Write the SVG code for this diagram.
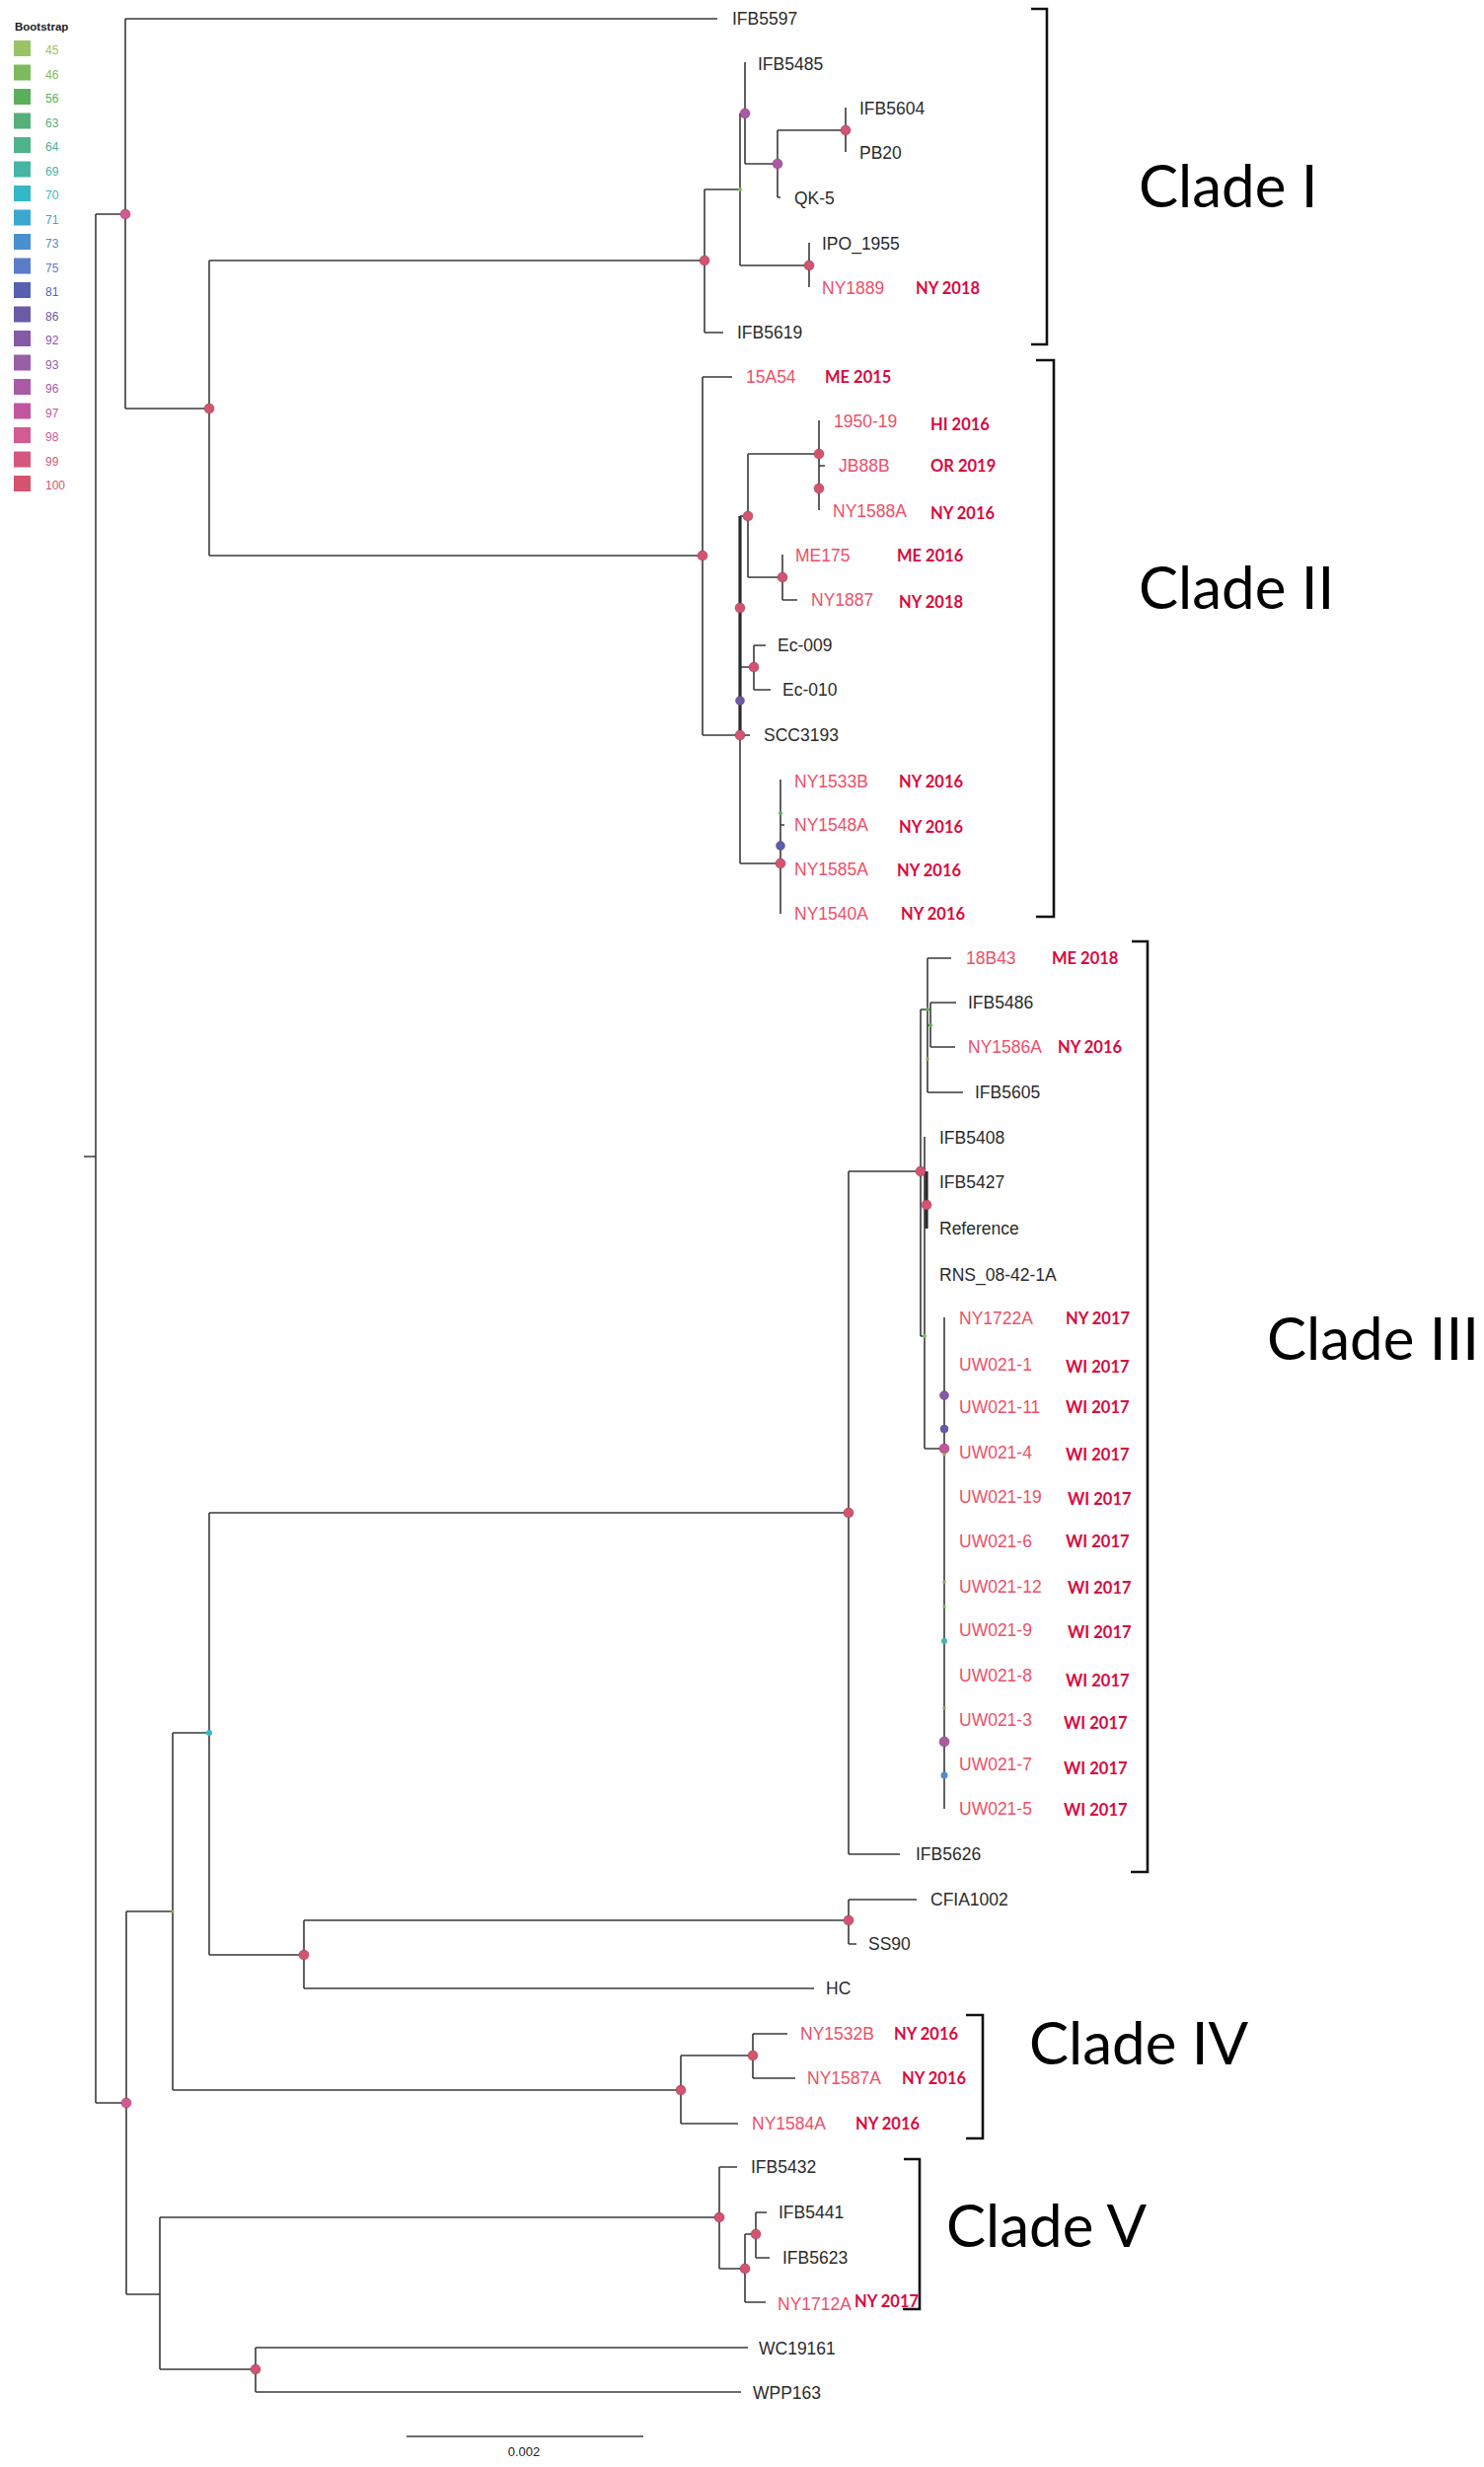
<svg xmlns="http://www.w3.org/2000/svg" width="1504" height="2500" viewBox="0 0 1504 2500">
<style>
.br{fill:none;stroke:#3a3a3a;stroke-width:1.6}
.tk{fill:none;stroke:#2a2a2a;stroke-width:3.2}
.bk{fill:none;stroke:#111;stroke-width:2.6}
.lb{font-family:"Liberation Sans",Arial,sans-serif;font-size:17.5px;fill:#2b2b2b}
.lr{font-family:"Liberation Sans",Arial,sans-serif;font-size:17.5px;fill:#ee5068}
.yr{font-family:Lato,"Open Sans",sans-serif;font-weight:bold;font-size:16.5px;fill:#d90a3e}
.cl{font-family:Lato,"Open Sans",sans-serif;font-size:60px;fill:#000}
.lt{font-family:"Liberation Sans",Arial,sans-serif;font-size:12px}
.lh{font-family:"Liberation Sans",Arial,sans-serif;font-size:11.5px;font-weight:bold;fill:#222}
.sc{font-family:"Liberation Sans",Arial,sans-serif;font-size:13px;fill:#222}
.d{stroke:#8a3a55;stroke-width:0.5}
</style>

<g id="legend">
<text class="lh" x="15" y="31">Bootstrap</text>
<rect x="14" y="41" width="17" height="16" fill="#98c466"/><text class="lt" x="46" y="55" fill="#98c466">45</text>
<rect x="14" y="65.5" width="17" height="16" fill="#7bbb5e"/><text class="lt" x="46" y="79.5" fill="#7bbb5e">46</text>
<rect x="14" y="90" width="17" height="16" fill="#5aaf5a"/><text class="lt" x="46" y="104" fill="#5aaf5a">56</text>
<rect x="14" y="114.5" width="17" height="16" fill="#55b07a"/><text class="lt" x="46" y="128.5" fill="#55b07a">63</text>
<rect x="14" y="139" width="17" height="16" fill="#4eb38a"/><text class="lt" x="46" y="153" fill="#4eb38a">64</text>
<rect x="14" y="163.5" width="17" height="16" fill="#45b5a5"/><text class="lt" x="46" y="177.5" fill="#45b5a5">69</text>
<rect x="14" y="188" width="17" height="16" fill="#33b8c8"/><text class="lt" x="46" y="202" fill="#33b8c8">70</text>
<rect x="14" y="212.5" width="17" height="16" fill="#3aa8d0"/><text class="lt" x="46" y="226.5" fill="#3aa8d0">71</text>
<rect x="14" y="237" width="17" height="16" fill="#4a90d0"/><text class="lt" x="46" y="251" fill="#4a90d0">73</text>
<rect x="14" y="261.5" width="17" height="16" fill="#5a7dc8"/><text class="lt" x="46" y="275.5" fill="#5a7dc8">75</text>
<rect x="14" y="286" width="17" height="16" fill="#5660b0"/><text class="lt" x="46" y="300" fill="#5660b0">81</text>
<rect x="14" y="310.5" width="17" height="16" fill="#6a5aa8"/><text class="lt" x="46" y="324.5" fill="#6a5aa8">86</text>
<rect x="14" y="335" width="17" height="16" fill="#8659a8"/><text class="lt" x="46" y="349" fill="#8659a8">92</text>
<rect x="14" y="359.5" width="17" height="16" fill="#985ea6"/><text class="lt" x="46" y="373.5" fill="#985ea6">93</text>
<rect x="14" y="384" width="17" height="16" fill="#a95aa6"/><text class="lt" x="46" y="398" fill="#a95aa6">96</text>
<rect x="14" y="408.5" width="17" height="16" fill="#c2569f"/><text class="lt" x="46" y="422.5" fill="#c2569f">97</text>
<rect x="14" y="433" width="17" height="16" fill="#d45a92"/><text class="lt" x="46" y="447" fill="#d45a92">98</text>
<rect x="14" y="457.5" width="17" height="16" fill="#d6577e"/><text class="lt" x="46" y="471.5" fill="#d6577e">99</text>
<rect x="14" y="482" width="17" height="16" fill="#d4546f"/><text class="lt" x="46" y="496" fill="#d4546f">100</text>
</g>

<g id="connectors">
<path class="br" d="M85,1172H97 M97,217V2131 M97,217H127 M97,2131H128"/>
<path class="br" d="M127,19V414 M127,19H727 M127,414H212 M212,264V563 M212,264H714 M212,563H712"/>
<path class="br" d="M714,192V337 M714,192H750 M714,337H733 M750,115V269 M750,115H755 M750,269H820 M755,63V166 M755,166H788 M788,132V200 M788,132H857 M788,200H791 M857,109V154 M820,246V291"/>
<path class="br" d="M712,382V745 M712,382H742 M712,745H750 M750,745V875 M750,745H760 M750,875H791 M750,523H758 M750,676H764 M758,460V585 M758,460H830 M758,585H793 M830,426V517 M830,472H836 M793,562V608 M793,608H808 M764,654V699 M764,654H776 M764,699H781 M791,790V926 M791,836H795"/>
<path class="tk" d="M750,523V745"/>
<path class="br" d="M128,1937V2325 M128,1937H175 M175,1756V2118 M175,1756H212 M175,2118H690 M212,1533V1981 M212,1533H860 M212,1981H308 M308,1946V2015 M308,1946H860 M308,2015H825 M860,1925V1970 M860,1925H929 M860,1970H868 M860,1187V1879 M860,1187H933 M860,1879H912"/>
<path class="br" d="M933,1023V1354 M933,1023H940 M940,971V1107 M940,971H964 M940,1107H976 M940,1039H943 M943,1016V1061 M943,1016H969 M943,1061H968 M937,1152V1468 M933,1354H937 M937,1468H957 M957,1335V1833"/>
<path class="tk" d="M939,1187V1245"/>
<path class="br" d="M690,2083V2152 M690,2083H763 M690,2152H748 M763,2061V2106 M763,2061H798 M763,2106H806"/>
<path class="br" d="M128,2325H162 M162,2247V2401 M162,2247H729 M162,2401H259 M729,2196V2299 M729,2196H747 M729,2299H755 M755,2264V2333 M755,2264H766 M755,2333H776 M766,2242V2288 M766,2242H777 M766,2288H780 M259,2379V2424 M259,2379H758 M259,2424H751"/>
<path class="bk" d="M1045,9H1061V349H1045 M1050,365H1068V929H1050 M1147,954H1163V1897H1146 M979,2042H996V2167H979 M916,2188H932V2340H915"/>
<path class="br" d="M412,2469H652"/>
</g>

<g id="internal-nodes">
<g id="n-top"><circle class="d" cx="127" cy="217" r="5" fill="#d45a92"/></g>
<g id="n-c12"><circle class="d" cx="212" cy="414" r="5" fill="#d4546f"/></g>
<g id="n-c1"><circle class="d" cx="714" cy="264" r="5" fill="#d4546f"/></g>
<g id="n-c1b"><circle cx="750" cy="192" r="2" fill="#7bbb5e"/></g>
<g id="n-c1c"><circle class="d" cx="755" cy="115" r="5" fill="#a95aa6"/></g>
<g id="n-c1e"><circle class="d" cx="788" cy="166" r="5" fill="#a95aa6"/></g>
<g id="n-c1f"><circle class="d" cx="857" cy="132" r="5" fill="#d4546f"/></g>
<g id="n-c1d"><circle class="d" cx="820" cy="269" r="5" fill="#d4546f"/></g>
<g id="n-c2"><circle class="d" cx="712" cy="563" r="5" fill="#d4546f"/></g>
<g id="n-c2n1"><circle class="d" cx="830" cy="460" r="5" fill="#d4546f"/></g>
<g id="n-c2n2"><circle class="d" cx="830" cy="495" r="5" fill="#d4546f"/></g>
<g id="n-c2l"><circle class="d" cx="758" cy="523" r="5" fill="#d4546f"/></g>
<g id="n-c2m"><circle class="d" cx="793" cy="585" r="5" fill="#d4546f"/></g>
<g id="n-c2j"><circle class="d" cx="750" cy="616" r="5" fill="#d4546f"/></g>
<g id="n-c2ec"><circle class="d" cx="764" cy="676" r="5" fill="#d4546f"/></g>
<g id="n-c2i"><circle class="d" cx="750" cy="710" r="4.5" fill="#6a5aa8"/></g>
<g id="n-c2h"><circle class="d" cx="750" cy="745" r="5" fill="#d4546f"/></g>
<g id="n-c2k1"><circle cx="791" cy="824" r="2" fill="#5aaf5a"/></g>
<g id="n-c2k2"><circle class="d" cx="791" cy="857" r="4.5" fill="#5660b0"/></g>
<g id="n-c2k"><circle class="d" cx="791" cy="875" r="5" fill="#d4546f"/></g>
<g id="n-c3"><circle class="d" cx="860" cy="1533" r="5" fill="#d4546f"/></g>
<g id="n-c3q"><circle class="d" cx="933" cy="1187" r="5" fill="#d4546f"/></g>
<g id="n-c3r"><circle class="d" cx="939" cy="1221" r="5" fill="#d4546f"/></g>
<g id="n-c3a"><circle cx="940" cy="1023" r="2" fill="#5aaf5a"/></g>
<g id="n-c3b"><circle cx="943" cy="1039" r="2" fill="#5aaf5a"/></g>
<g id="n-c3c"><circle cx="940" cy="1073" r="1.8" fill="#98a850"/></g>
<g id="n-c3d"><circle cx="937" cy="1354" r="2" fill="#7bbb5e"/></g>
<g id="n-uw1"><circle class="d" cx="957" cy="1414" r="4.5" fill="#8659a8"/></g>
<g id="n-uw2"><circle class="d" cx="957" cy="1448" r="4" fill="#5660b0"/></g>
<g id="n-uw3"><circle class="d" cx="957" cy="1468" r="5" fill="#c2569f"/></g>
<g id="n-uw4"><circle cx="957" cy="1474" r="1.8" fill="#98a850"/></g>
<g id="n-uw5"><circle cx="957" cy="1603" r="1.8" fill="#98a850"/></g>
<g id="n-uw6"><circle cx="957" cy="1628" r="1.8" fill="#7bbb5e"/></g>
<g id="n-uw7"><circle cx="957" cy="1663" r="3" fill="#45b5a5"/></g>
<g id="n-uw8"><circle cx="957" cy="1731" r="1.8" fill="#98a850"/></g>
<g id="n-uw9"><circle class="d" cx="957" cy="1765" r="5" fill="#a95aa6"/></g>
<g id="n-uw10"><circle cx="957" cy="1799" r="3.5" fill="#4a90d0"/></g>
<g id="n-cyan"><circle cx="212" cy="1756" r="3" fill="#33b8c8"/></g>
<g id="n-tiny"><circle cx="175" cy="1937" r="1.5" fill="#98a850"/></g>
<g id="n-r"><circle class="d" cx="308" cy="1981" r="5" fill="#d4546f"/></g>
<g id="n-s"><circle class="d" cx="860" cy="1946" r="5" fill="#d4546f"/></g>
<g id="n-v"><circle class="d" cx="128" cy="2131" r="5" fill="#d45a92"/></g>
<g id="n-c4"><circle class="d" cx="690" cy="2118" r="5" fill="#d4546f"/></g>
<g id="n-c4z"><circle class="d" cx="763" cy="2083" r="5" fill="#d4546f"/></g>
<g id="n-c5"><circle class="d" cx="729" cy="2247" r="5" fill="#d4546f"/></g>
<g id="n-c5a"><circle class="d" cx="755" cy="2299" r="5" fill="#d4546f"/></g>
<g id="n-c5b"><circle class="d" cx="766" cy="2264" r="5" fill="#d4546f"/></g>
<g id="n-wc"><circle class="d" cx="259" cy="2401" r="5" fill="#d4546f"/></g>
</g>

<g id="tips">
<g id="t-IFB5597"><text class="lb" x="742" y="25">IFB5597</text></g>
<g id="t-IFB5485"><text class="lb" x="768" y="71">IFB5485</text></g>
<g id="t-IFB5604"><text class="lb" x="871" y="116">IFB5604</text></g>
<g id="t-PB20"><text class="lb" x="871" y="161">PB20</text></g>
<g id="t-QK-5"><text class="lb" x="805" y="207">QK-5</text></g>
<g id="t-IPO_1955"><text class="lb" x="833" y="253">IPO_1955</text></g>
<g id="t-NY1889"><text class="lr" x="833" y="298">NY1889</text><text class="yr" x="928" y="298">NY 2018</text></g>
<g id="t-IFB5619"><text class="lb" x="747" y="343">IFB5619</text></g>
<g id="t-15A54"><text class="lr" x="756" y="388">15A54</text><text class="yr" x="836" y="388">ME 2015</text></g>
<g id="t-1950-19"><text class="lr" x="845" y="433">1950-19</text><text class="yr" x="943" y="436">HI 2016</text></g>
<g id="t-JB88B"><text class="lr" x="850" y="478">JB88B</text><text class="yr" x="943" y="478">OR 2019</text></g>
<g id="t-NY1588A"><text class="lr" x="844" y="524">NY1588A</text><text class="yr" x="943" y="526">NY 2016</text></g>
<g id="t-ME175"><text class="lr" x="806" y="569">ME175</text><text class="yr" x="909" y="569">ME 2016</text></g>
<g id="t-NY1887"><text class="lr" x="822" y="614">NY1887</text><text class="yr" x="911" y="616">NY 2018</text></g>
<g id="t-Ec-009"><text class="lb" x="788" y="660">Ec-009</text></g>
<g id="t-Ec-010"><text class="lb" x="793" y="705">Ec-010</text></g>
<g id="t-SCC3193"><text class="lb" x="774" y="751">SCC3193</text></g>
<g id="t-NY1533B"><text class="lr" x="805" y="798">NY1533B</text><text class="yr" x="911" y="798">NY 2016</text></g>
<g id="t-NY1548A"><text class="lr" x="805" y="842">NY1548A</text><text class="yr" x="911" y="844">NY 2016</text></g>
<g id="t-NY1585A"><text class="lr" x="805" y="887">NY1585A</text><text class="yr" x="909" y="888">NY 2016</text></g>
<g id="t-NY1540A"><text class="lr" x="805" y="932">NY1540A</text><text class="yr" x="913" y="932">NY 2016</text></g>
<g id="t-18B43"><text class="lr" x="979" y="977">18B43</text><text class="yr" x="1066" y="977">ME 2018</text></g>
<g id="t-IFB5486"><text class="lb" x="981" y="1022">IFB5486</text></g>
<g id="t-NY1586A"><text class="lr" x="981" y="1067">NY1586A</text><text class="yr" x="1072" y="1067">NY 2016</text></g>
<g id="t-IFB5605"><text class="lb" x="988" y="1113">IFB5605</text></g>
<g id="t-IFB5408"><text class="lb" x="952" y="1159">IFB5408</text></g>
<g id="t-IFB5427"><text class="lb" x="952" y="1204">IFB5427</text></g>
<g id="t-Reference"><text class="lb" x="952" y="1251">Reference</text></g>
<g id="t-RNS"><text class="lb" x="952" y="1298">RNS_08-42-1A</text></g>
<g id="t-NY1722A"><text class="lr" x="972" y="1342">NY1722A</text><text class="yr" x="1080" y="1342">NY 2017</text></g>
<g id="t-UW021-1"><text class="lr" x="972" y="1389">UW021-1</text><text class="yr" x="1080" y="1391">WI 2017</text></g>
<g id="t-UW021-11"><text class="lr" x="972" y="1432">UW021-11</text><text class="yr" x="1080" y="1432">WI 2017</text></g>
<g id="t-UW021-4"><text class="lr" x="972" y="1478">UW021-4</text><text class="yr" x="1080" y="1480">WI 2017</text></g>
<g id="t-UW021-19"><text class="lr" x="972" y="1523">UW021-19</text><text class="yr" x="1082" y="1525">WI 2017</text></g>
<g id="t-UW021-6"><text class="lr" x="972" y="1568">UW021-6</text><text class="yr" x="1080" y="1568">WI 2017</text></g>
<g id="t-UW021-12"><text class="lr" x="972" y="1614">UW021-12</text><text class="yr" x="1082" y="1615">WI 2017</text></g>
<g id="t-UW021-9"><text class="lr" x="972" y="1658">UW021-9</text><text class="yr" x="1082" y="1660">WI 2017</text></g>
<g id="t-UW021-8"><text class="lr" x="972" y="1704">UW021-8</text><text class="yr" x="1080" y="1709">WI 2017</text></g>
<g id="t-UW021-3"><text class="lr" x="972" y="1749">UW021-3</text><text class="yr" x="1078" y="1752">WI 2017</text></g>
<g id="t-UW021-7"><text class="lr" x="972" y="1794">UW021-7</text><text class="yr" x="1078" y="1798">WI 2017</text></g>
<g id="t-UW021-5"><text class="lr" x="972" y="1839">UW021-5</text><text class="yr" x="1078" y="1840">WI 2017</text></g>
<g id="t-IFB5626"><text class="lb" x="928" y="1885">IFB5626</text></g>
<g id="t-CFIA1002"><text class="lb" x="943" y="1931">CFIA1002</text></g>
<g id="t-SS90"><text class="lb" x="880" y="1976">SS90</text></g>
<g id="t-HC"><text class="lb" x="837" y="2021">HC</text></g>
<g id="t-NY1532B"><text class="lr" x="811" y="2067">NY1532B</text><text class="yr" x="906" y="2067">NY 2016</text></g>
<g id="t-NY1587A"><text class="lr" x="818" y="2112">NY1587A</text><text class="yr" x="914" y="2112">NY 2016</text></g>
<g id="t-NY1584A"><text class="lr" x="762" y="2158">NY1584A</text><text class="yr" x="867" y="2158">NY 2016</text></g>
<g id="t-IFB5432"><text class="lb" x="761" y="2202">IFB5432</text></g>
<g id="t-IFB5441"><text class="lb" x="789" y="2248">IFB5441</text></g>
<g id="t-IFB5623"><text class="lb" x="793" y="2294">IFB5623</text></g>
<g id="t-NY1712A"><text class="lr" x="788" y="2341">NY1712A</text><text class="yr" x="866" y="2338">NY 2017</text></g>
<g id="t-WC19161"><text class="lb" x="769" y="2386">WC19161</text></g>
<g id="t-WPP163"><text class="lb" x="763" y="2431">WPP163</text></g>
</g>

<g id="clades">
<text class="cl" x="1154" y="210">Clade I</text>
<text class="cl" x="1154" y="617">Clade II</text>
<text class="cl" x="1284" y="1378">Clade III</text>
<text class="cl" x="1043" y="2092">Clade IV</text>
<text class="cl" x="959" y="2277">Clade V</text>
</g>

<g id="scale">
<text class="sc" x="531" y="2489" text-anchor="middle">0.002</text>
</g>
</svg>
